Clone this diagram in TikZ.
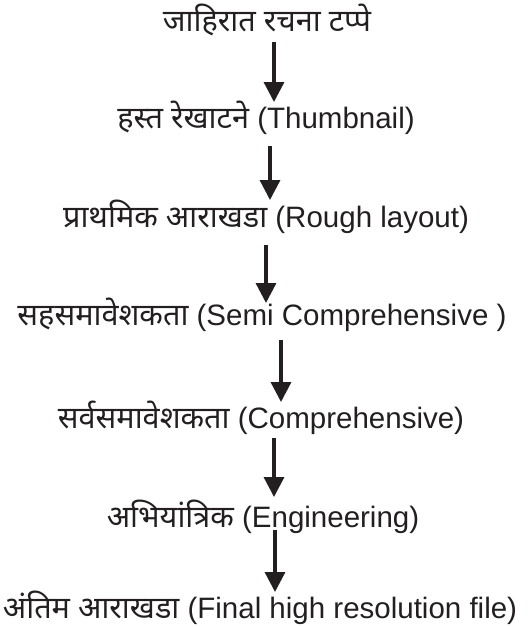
\documentclass[tikz,border=0pt]{standalone}
\usepackage{fontspec}
\setmainfont{Liberation Sans}
\newfontfamily\deva[Script=Devanagari,Scale=1.04]{Noto Sans}
\usetikzlibrary{arrows.meta}
\definecolor{ink}{HTML}{231F20}
\tikzset{
  stage/.style={anchor=base, inner sep=0pt, text=ink, font=\fontsize{29.5}{35}\selectfont},
  flow/.style={draw=ink, line width=3.3pt, -{Triangle[width=20pt,length=20pt]}}
}
\begin{document}
\begin{tikzpicture}[x=1pt,y=-1pt]
\useasboundingbox (0,0) rectangle (528,627);
\node[stage] (n1) at (267,31) {\deva जाहिरात रचना टप्पे};
\node[stage] (n2) at (266,128) {{\deva हस्त रेखाटने} (Thumbnail)};
\node[stage] (n3) at (266,227) {{\deva प्राथमिक आराखडा} (Rough layout)};
\node[stage] (n4) at (262,325) {{\deva सहसमावेशकता} (Semi Comprehensive )};
\node[stage] (n5) at (261,428) {{\deva सर्वसमावेशकता} (Comprehensive)};
\node[stage] (n6) at (263,527) {{\deva अभियांत्रिक} (Engineering)};
\node[stage] (n7) at (260,618) {{\deva अंतिम आराखडा} (Final high resolution file)};
\coordinate (a1s) at (274,42);  \coordinate (a1e) at (274,102);
\coordinate (a2s) at (270,146); \coordinate (a2e) at (270,200);
\coordinate (a3s) at (266,245); \coordinate (a3e) at (266,303);
\coordinate (a4s) at (281,340); \coordinate (a4e) at (281,402);
\coordinate (a5s) at (274,438); \coordinate (a5e) at (274,497);
\coordinate (a6s) at (275,530); \coordinate (a6e) at (275,592);
\draw[flow] (a1s) -- (a1e);
\draw[flow] (a2s) -- (a2e);
\draw[flow] (a3s) -- (a3e);
\draw[flow] (a4s) -- (a4e);
\draw[flow] (a5s) -- (a5e);
\draw[flow] (a6s) -- (a6e);
\end{tikzpicture}
\end{document}
